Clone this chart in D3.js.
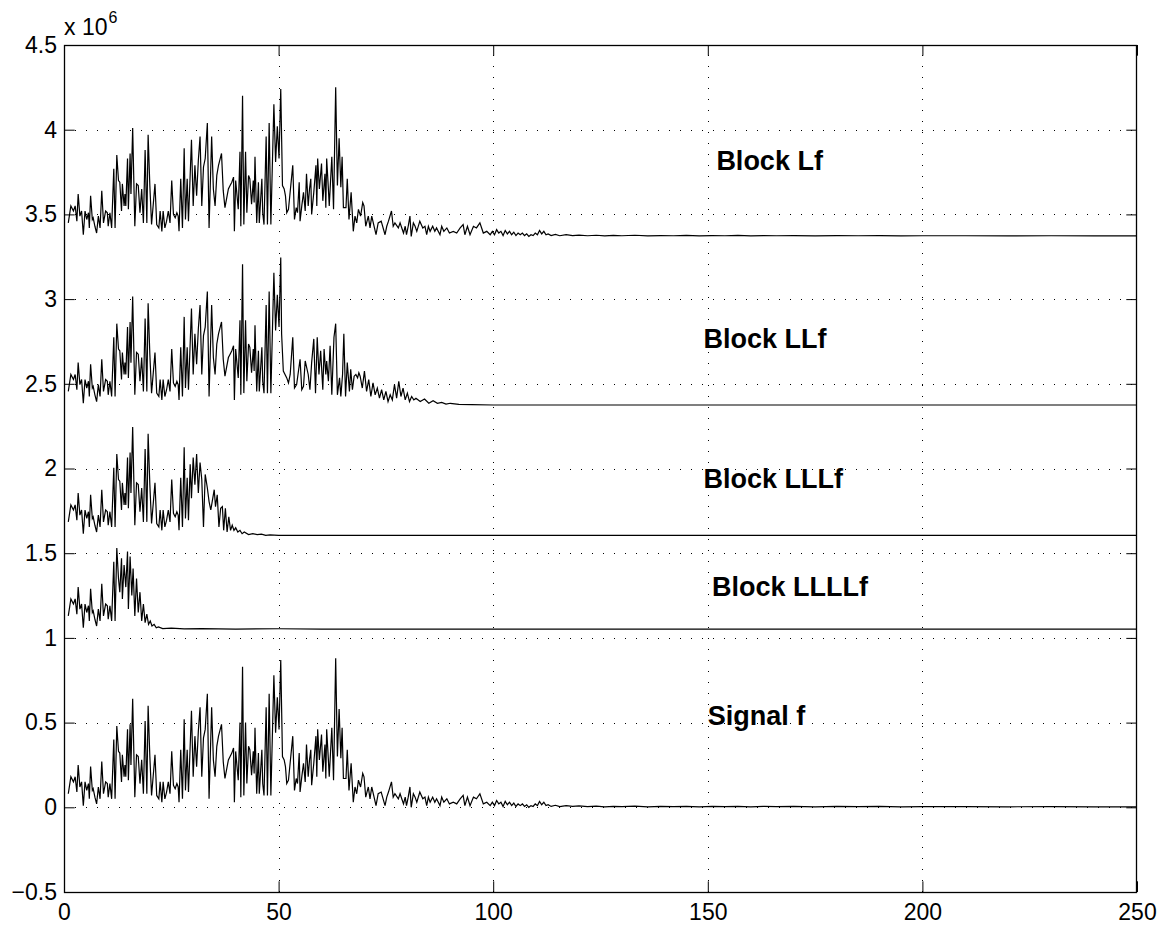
<!DOCTYPE html>
<html><head><meta charset="utf-8">
<script src="https://cdn.jsdelivr.net/npm/d3@7"></script>
<style>body{margin:0;background:#fff}svg{display:block}</style>
</head><body><svg id="c" width="1165" height="928"></svg>
<script>
// ---- data (values in units of 1e6) ----
const xTicks = [0, 50, 100, 150, 200, 250];
const xTickLabels = ["0", "50", "100", "150", "200", "250"];
const yTicks = [-0.5, 0, 0.5, 1, 1.5, 2, 2.5, 3, 3.5, 4, 4.5];
const yTickLabels = ["\u22120.5", "0", "0.5", "1", "1.5", "2", "2.5", "3", "3.5", "4", "4.5"];

// Signal f : [x, value]
const signalF = [[1.0,0.08],[1.6,0.18],[2.2,0.15],[2.6,0.18],[3.0,0.09],[3.3,0.25],[3.7,0.12],[4.1,0.15],[4.5,0.01],[4.9,0.15],[5.3,0.10],[5.7,0.14],[5.9,0.05],[6.2,0.24],[6.6,0.10],[6.8,0.11],[7.2,0.06],[7.6,0.02],[8.0,0.12],[8.4,0.05],[8.8,0.27],[9.2,0.08],[9.7,0.15],[10.1,0.14],[10.3,0.06],[10.7,0.14],[11.1,0.05],[11.6,0.40],[11.9,0.05],[12.3,0.48],[12.7,0.33],[13.0,0.32],[13.4,0.15],[13.6,0.31],[14.0,0.18],[14.2,0.25],[14.4,0.18],[14.8,0.46],[15.0,0.16],[15.4,0.49],[15.6,0.25],[16.0,0.64],[16.5,0.06],[16.9,0.31],[17.3,0.30],[17.7,0.14],[18.1,0.28],[18.5,0.08],[18.9,0.51],[19.3,0.08],[19.6,0.60],[20.0,0.30],[20.4,0.07],[21.2,0.31],[21.6,0.07],[22.1,0.05],[22.4,0.15],[22.8,0.03],[23.1,0.15],[23.5,0.05],[23.9,0.09],[24.3,0.15],[24.7,0.08],[25.1,0.33],[25.5,0.13],[25.9,0.11],[26.3,0.14],[26.6,0.12],[26.8,0.03],[27.2,0.34],[27.6,0.05],[28.0,0.52],[28.3,0.10],[28.7,0.34],[29.0,0.09],[29.7,0.57],[30.1,0.18],[30.5,0.42],[30.9,0.24],[31.3,0.45],[31.7,0.59],[32.1,0.18],[32.5,0.41],[32.9,0.46],[33.4,0.67],[33.8,0.05],[34.4,0.59],[34.8,0.28],[35.2,0.18],[35.6,0.36],[36.0,0.42],[36.7,0.49],[37.1,0.27],[37.5,0.17],[38.3,0.28],[38.7,0.30],[39.1,0.32],[39.5,0.35],[39.7,0.03],[40.0,0.33],[40.6,0.16],[41.0,0.50],[41.2,0.06],[41.6,0.83],[41.9,0.07],[42.3,0.50],[42.6,0.14],[43.0,0.36],[43.3,0.34],[43.7,0.19],[44.1,0.33],[44.3,0.20],[44.5,0.47],[44.9,0.08],[45.3,0.32],[45.5,0.08],[46.1,0.34],[46.3,0.14],[46.6,0.07],[47.1,0.59],[47.4,0.07],[47.8,0.67],[48.2,0.07],[48.9,0.78],[49.3,0.44],[49.7,0.65],[50.1,0.46],[50.5,0.87],[50.9,0.30],[51.3,0.28],[51.6,0.24],[51.9,0.14],[52.3,0.16],[53.3,0.42],[53.7,0.10],[54.1,0.17],[54.4,0.14],[54.8,0.32],[55.0,0.09],[55.4,0.18],[55.8,0.26],[56.2,0.15],[56.5,0.37],[56.9,0.18],[57.2,0.28],[57.5,0.34],[57.7,0.13],[58.2,0.26],[58.7,0.42],[58.9,0.18],[59.1,0.46],[59.5,0.28],[60.0,0.43],[60.3,0.21],[60.8,0.37],[61.0,0.17],[61.2,0.46],[61.6,0.28],[61.8,0.18],[62.4,0.47],[62.8,0.16],[63.3,0.88],[63.7,0.30],[64.1,0.58],[64.5,0.29],[64.8,0.47],[65.1,0.17],[65.7,0.17],[66.0,0.34],[66.4,0.10],[66.9,0.26],[67.4,0.03],[67.8,0.12],[68.2,0.08],[68.6,0.16],[69.1,0.12],[69.6,0.20],[69.9,0.18],[70.3,0.06],[70.9,0.12],[71.3,0.05],[71.7,0.12],[72.7,0.01],[73.2,0.08],[73.9,0.09],[74.8,0.01],[75.2,0.06],[75.6,0.09],[76.3,0.15],[76.7,0.06],[77.1,0.08],[77.9,0.05],[78.3,0.08],[79.1,0.02],[79.5,0.06],[79.8,0.01],[80.2,0.06],[80.6,0.12],[80.9,0.00],[81.4,0.08],[81.8,0.06],[82.2,0.03],[82.9,0.09],[83.6,0.05],[84.1,0.06],[84.5,0.01],[84.9,0.06],[85.3,0.03],[85.9,0.06],[86.4,0.03],[86.8,0.05],[87.6,0.01],[88.0,0.06],[88.5,0.03],[89.2,0.05],[89.8,0.02],[90.7,0.03],[91.5,0.02],[92.3,0.05],[93.0,0.07],[93.4,0.01],[94.0,0.06],[94.6,0.01],[95.4,0.06],[96.1,0.05],[96.9,0.08],[97.7,0.02],[98.5,0.03],[99.3,0.01],[99.8,0.03],[100.3,0.01],[100.8,0.04],[101.3,0.02],[101.8,0.03],[102.3,0.005],[102.8,0.035],[103.3,0.015],[103.8,0.03],[104.3,0.01],[104.8,0.025],[105.3,0.005],[105.8,0.02],[106.3,0.01],[106.8,0.02],[107.3,0.005],[107.8,0.015],[108.3,0.0],[108.8,0.01],[109.3,0.005],[109.8,0.02],[110.3,0.01],[110.8,0.035],[111.3,0.015],[111.8,0.03],[112.3,0.01],[112.8,0.015],[113.5,0.005],[114.5,0.012],[115.5,0.004],[117,0.01],[118.5,0.005],[120,0.008],[122,0.004],[124,0.007],[126,0.003],[128,0.006],[130,0.004],[133,0.007],[136,0.003],[139,0.005],[142,0.004],[145,0.006],[148,0.003],[151,0.005],[154,0.004],[157,0.006],[160,0.003],[163,0.005],[166,0.004],[170,0.005],[175,0.003],[180,0.005],[185,0.004],[190,0.005],[195,0.003],[200,0.004],[210,0.004],[220,0.003],[230,0.004],[240,0.003],[250,0.003]];

// Blocks: baseline levels; each block follows Signal f up to its cut, then its own tail
const blockNames = ["Block Lf", "Block LLf", "Block LLLf", "Block LLLLf", "Signal f"];
const blockBaselines = [3.37, 2.375, 1.605, 1.05, 0];
const blockCuts = [250, 50.5, 29.0, 12.3, 250];
const tailLf = [];
const tailLLf = [[50.7,0.42],[51.1,0.20],[51.9,0.16],[52.3,0.13],[52.7,0.18],[53.3,0.40],[53.7,0.10],[54.2,0.12],[55.0,0.27],[55.4,0.09],[55.8,0.11],[56.2,0.26],[56.9,0.18],[57.3,0.09],[57.7,0.25],[58.2,0.39],[58.6,0.07],[59.0,0.40],[59.4,0.18],[59.8,0.32],[60.3,0.09],[60.6,0.33],[61.0,0.18],[61.2,0.26],[61.6,0.14],[62.0,0.35],[62.4,0.06],[62.9,0.40],[63.3,0.48],[63.7,0.06],[64.2,0.16],[64.5,0.05],[64.9,0.18],[65.2,0.42],[65.6,0.05],[66.0,0.25],[66.5,0.08],[66.8,0.21],[67.2,0.09],[67.6,0.17],[68.0,0.18],[68.4,0.16],[68.7,0.19],[69.0,0.17],[69.5,0.10],[70,0.20],[70.5,0.08],[71,0.15],[71.5,0.05],[72,0.13],[72.5,0.06],[73,0.10],[73.5,0.04],[74,0.09],[74.5,0.03],[75,0.08],[75.5,0.02],[76,0.06],[76.5,0.03],[77,0.12],[77.5,0.04],[78,0.14],[78.5,0.05],[79,0.10],[79.5,0.03],[80,0.07],[80.5,0.02],[81,0.05],[81.5,0.03],[82,0.04],[83,0.02],[84,0.035],[85,0.01],[86,0.025],[87,0.01],[88,0.015],[89,0.005],[90,0.01],[92,0.003],[95,0.002],[100,0],[250,0]];
const tailLLLf = [[29.4,0.42],[29.7,0.22],[30.1,0.46],[30.5,0.30],[30.9,0.48],[31.3,0.25],[31.7,0.43],[32.1,0.33],[32.5,0.05],[32.9,0.36],[33.4,0.28],[33.8,0.20],[34.2,0.15],[34.6,0.21],[35.0,0.27],[35.3,0.17],[35.7,0.24],[36.1,0.05],[36.5,0.16],[36.9,0.17],[37.2,0.03],[37.6,0.16],[38.0,0.02],[38.4,0.11],[38.8,0.03],[39.2,0.06],[39.6,0.03],[40.0,0.045],[40.5,0.02],[41,0.03],[41.5,0.01],[42,0.02],[43,0.005],[44,0.01],[45,0.005],[46,0.008],[47,0.0],[48,0.003],[50,0.0],[250,0]];
const tailLLLLf = [[12.7,0.30],[13.0,0.22],[13.4,0.42],[13.6,0.18],[14.0,0.38],[14.4,0.25],[14.8,0.46],[15.0,0.12],[15.4,0.43],[15.8,0.20],[16.1,0.36],[16.5,0.08],[16.9,0.30],[17.3,0.10],[17.7,0.22],[18.1,0.05],[18.5,0.15],[18.9,0.04],[19.3,0.09],[19.7,0.03],[20.1,0.05],[20.5,0.02],[21,0.03],[21.5,0.01],[22,0.015],[23,0.005],[25,0.008],[28,0.003],[32,0.005],[40,0.002],[50,0.004],[60,0.002],[80,0.002],[250,0.002]];
const blockTails = [tailLf, tailLLf, tailLLLf, tailLLLLf, []];
// label anchor positions (data coords: x, y of baseline)
const labelX = [152, 149, 149, 151, 150];
const labelY = [3.765, 2.71, 1.885, 1.245, 0.485];

// ---- layout ----
const svg = d3.select("#c");
const L = 64, R = 1137, T = 45, B = 892;
const x = d3.scaleLinear().domain([0, 250]).range([L, R]);
const y = d3.scaleLinear().domain([-0.5, 4.5]).range([B, T]);
const font = "Liberation Sans, Arial, Helvetica, sans-serif";

// grid
const grid = svg.append("g").attr("stroke", "#000").attr("stroke-width", 1)
  .attr("stroke-dasharray", "1,10").attr("shape-rendering", "crispEdges");
grid.selectAll(".gx").data(xTicks.slice(1, -1)).join("line")
  .attr("x1", d => Math.round(x(d)) + 0.5).attr("x2", d => Math.round(x(d)) + 0.5)
  .attr("y1", B).attr("y2", T);
grid.selectAll(".gy").data(yTicks.slice(1, -1)).join("line")
  .attr("y1", d => Math.round(y(d)) + 0.5).attr("y2", d => Math.round(y(d)) + 0.5)
  .attr("x1", L).attr("x2", R);

// series
svg.append("clipPath").attr("id", "clip").append("rect")
  .attr("x", L).attr("y", T).attr("width", R - L).attr("height", B - T);
const line = d3.line().x(d => x(d[0])).y(d => y(d[1]));
blockNames.forEach((name, i) => {
  const pts = signalF.filter(d => d[0] <= blockCuts[i]).concat(blockTails[i])
    .map(d => [d[0], d[1] + blockBaselines[i]]);
  svg.append("path").datum(pts).attr("d", line)
    .attr("fill", "none").attr("stroke", "#000").attr("stroke-width", 1.2)
    .attr("stroke-linejoin", "miter").attr("clip-path", "url(#clip)");
});

// axes (ticks inside, like MATLAB)
const tk = 10.7;
const styleAxis = g => {
  g.select(".domain").remove();
  g.selectAll(".tick line").attr("stroke", "#000").attr("stroke-width", 1);
  g.selectAll(".tick text").attr("fill", "#000").attr("font-family", font).attr("font-size", 23);
};
svg.append("g").attr("transform", `translate(${L},0)`)
  .call(d3.axisLeft(y).tickValues(yTicks).tickSizeInner(-tk).tickSizeOuter(0).tickPadding(7)
    .tickFormat((d, i) => yTickLabels[i]))
  .call(styleAxis);
svg.append("g").attr("transform", `translate(${R},0)`)
  .call(d3.axisRight(y).tickValues(yTicks).tickSizeInner(-tk).tickSizeOuter(0).tickFormat(""))
  .call(styleAxis);
const xb = svg.append("g").attr("transform", `translate(0,${B})`)
  .call(d3.axisBottom(x).tickValues(xTicks).tickSizeInner(-tk).tickSizeOuter(0)
    .tickFormat((d, i) => xTickLabels[i]))
  .call(styleAxis);
xb.selectAll(".tick text").attr("y", 28).attr("dy", 0);
svg.append("g").attr("transform", `translate(0,${T})`)
  .call(d3.axisTop(x).tickValues(xTicks).tickSizeInner(-tk).tickSizeOuter(0).tickFormat(""))
  .call(styleAxis);

// box
svg.append("rect").attr("x", L + 0.5).attr("y", T + 0.5).attr("width", R - L - 1).attr("height", B - T)
  .attr("fill", "none").attr("stroke", "#000").attr("stroke-width", 1.3);

// exponent
const ex = svg.append("text").attr("x", L).attr("y", 35).attr("font-family", font).attr("font-size", 23).attr("fill", "#000");
ex.append("tspan").text("x 10");
ex.append("tspan").attr("font-size", 16).attr("dy", -12).attr("dx", 1).text("6");

// labels
svg.selectAll(".lab").data(blockNames).join("text")
  .attr("x", (d, i) => x(labelX[i])).attr("y", (d, i) => y(labelY[i]))
  .attr("font-family", font).attr("font-weight", "bold").attr("font-size", 27).attr("fill", "#000")
  .text(d => d);
</script></body></html>
